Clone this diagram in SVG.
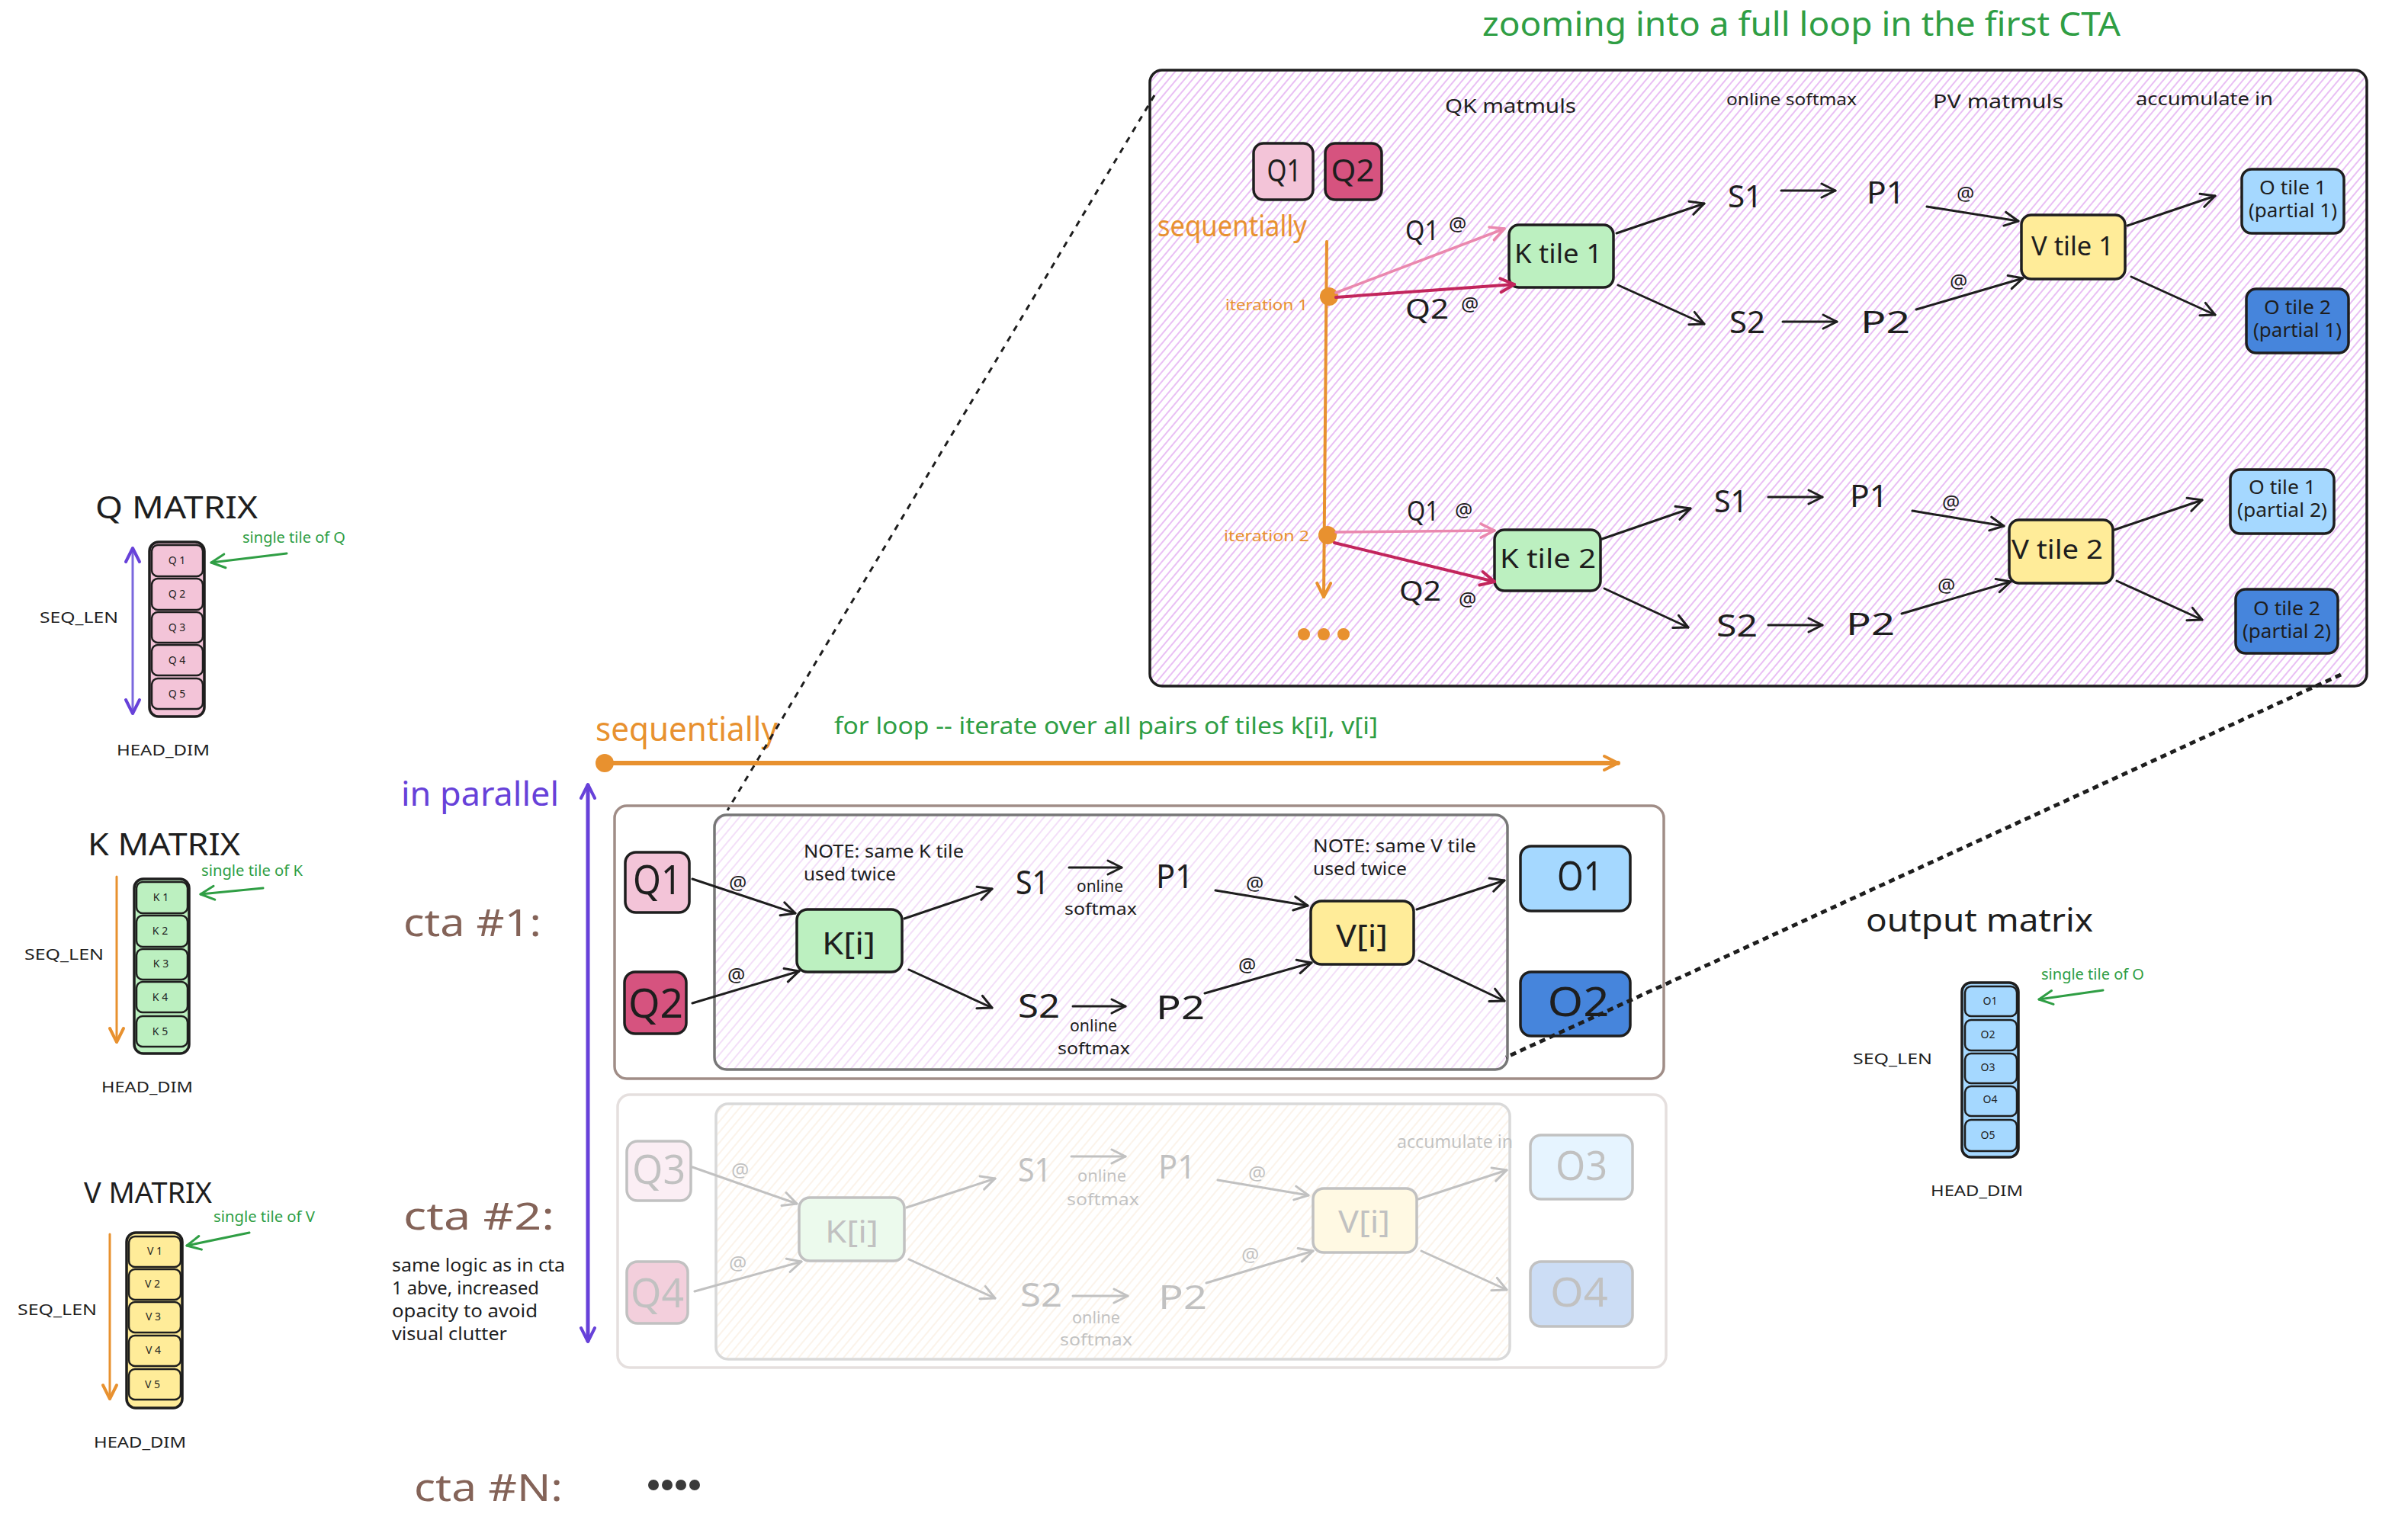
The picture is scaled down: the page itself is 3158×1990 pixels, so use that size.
<svg xmlns="http://www.w3.org/2000/svg" width="3158" height="1990" viewBox="0 0 3158 1990">
<defs>
<style>
text{font-family:"Noto Sans","Liberation Sans",sans-serif;fill:#1e1e1e}
.g{fill:#2f9e44}
.or{fill:#e8912f}
.pu{fill:#6741d9}
.br{fill:#846358}
.nd{stroke:#1e1e1e;stroke-width:3.5}
.tl{stroke:#1e1e1e;stroke-width:2.5}
.pk{fill:#f3c4d8}
.dpk{fill:#d6537f}
.gr{fill:#bcf0c0}
.ye{fill:#ffec99}
.lb{fill:#a5d8ff}
.db{fill:#4685dc}
.ar{stroke:#1e1e1e;stroke-width:3;fill:none;stroke-linecap:round;marker-end:url(#ah)}
.arlp{stroke:#ea88ae;stroke-width:3.5;fill:none;stroke-linecap:round;marker-end:url(#ahlp)}
.ardp{stroke:#c2255c;stroke-width:4;fill:none;stroke-linecap:round;marker-end:url(#ahdp)}
.aror{stroke:#e8912f;fill:none;stroke-linecap:round;marker-end:url(#ahor)}
.argr{stroke:#2f9e44;stroke-width:3;fill:none;stroke-linecap:round;marker-end:url(#ahgr)}
.dot{fill:#e8912f}
</style>
<marker id="ah" markerUnits="userSpaceOnUse" markerWidth="30" markerHeight="30" viewBox="0 0 30 30" refX="26" refY="15" orient="auto"><path d="M8,6 L26,15 L8,24" fill="none" stroke="#1e1e1e" stroke-width="3" stroke-linecap="round" stroke-linejoin="round"/></marker>
<marker id="ahlp" markerUnits="userSpaceOnUse" markerWidth="30" markerHeight="30" viewBox="0 0 30 30" refX="26" refY="15" orient="auto"><path d="M8,6 L26,15 L8,24" fill="none" stroke="#ea88ae" stroke-width="3.5" stroke-linecap="round" stroke-linejoin="round"/></marker>
<marker id="ahdp" markerUnits="userSpaceOnUse" markerWidth="30" markerHeight="30" viewBox="0 0 30 30" refX="26" refY="15" orient="auto"><path d="M8,6 L26,15 L8,24" fill="none" stroke="#c2255c" stroke-width="4" stroke-linecap="round" stroke-linejoin="round"/></marker>
<marker id="ahor" markerUnits="userSpaceOnUse" markerWidth="30" markerHeight="30" viewBox="0 0 30 30" refX="26" refY="15" orient="auto"><path d="M8,6 L26,15 L8,24" fill="none" stroke="#e8912f" stroke-width="4" stroke-linecap="round" stroke-linejoin="round"/></marker>
<marker id="ahpu" markerUnits="userSpaceOnUse" markerWidth="30" markerHeight="30" viewBox="0 0 30 30" refX="26" refY="15" orient="auto-start-reverse"><path d="M8,6 L26,15 L8,24" fill="none" stroke="#6741d9" stroke-width="4" stroke-linecap="round" stroke-linejoin="round"/></marker>
<marker id="ahgr" markerUnits="userSpaceOnUse" markerWidth="30" markerHeight="30" viewBox="0 0 30 30" refX="26" refY="15" orient="auto"><path d="M8,6 L26,15 L8,24" fill="none" stroke="#2f9e44" stroke-width="3" stroke-linecap="round" stroke-linejoin="round"/></marker>
<pattern id="hz" patternUnits="userSpaceOnUse" width="8" height="8" patternTransform="rotate(40)"><rect width="8" height="8" fill="#ffffff"/><line x1="1" y1="0" x2="1" y2="8" stroke="#e2aaf1" stroke-width="1.5"/></pattern>
<pattern id="hc" patternUnits="userSpaceOnUse" width="9" height="9" patternTransform="rotate(40)"><rect width="9" height="9" fill="#ffffff"/><line x1="1" y1="0" x2="1" y2="9" stroke="#eed2f6" stroke-width="1.4"/></pattern>
<pattern id="hb" patternUnits="userSpaceOnUse" width="9" height="9" patternTransform="rotate(40)"><rect width="9" height="9" fill="#ffffff"/><line x1="1" y1="0" x2="1" y2="9" stroke="#eec08a" stroke-width="1.3"/></pattern>
</defs>
<rect width="3158" height="1990" fill="#ffffff"/>

<!-- ===== Matrices ===== -->
<g id="q-matrix">
<text x="125" y="680" font-size="40" textLength="213" lengthAdjust="spacingAndGlyphs">Q MATRIX</text>
<rect x="196" y="711" width="72" height="229" rx="12" class="pk nd"/>
<rect x="199" y="715" width="67" height="41" rx="8" class="pk tl"/>
<rect x="199" y="759" width="67" height="41" rx="8" class="pk tl"/>
<rect x="199" y="803" width="67" height="40" rx="8" class="pk tl"/>
<rect x="199" y="846" width="67" height="40" rx="8" class="pk tl"/>
<rect x="199" y="890" width="67" height="40" rx="8" class="pk tl"/>
<g font-size="14" text-anchor="middle">
<text x="232" y="740">Q 1</text><text x="232" y="784">Q 2</text><text x="232" y="828">Q 3</text><text x="232" y="871">Q 4</text><text x="232" y="915">Q 5</text>
</g>
<text x="52" y="817" font-size="20" textLength="103" lengthAdjust="spacingAndGlyphs">SEQ_LEN</text>
<text x="153" y="991" font-size="20" textLength="122" lengthAdjust="spacingAndGlyphs">HEAD_DIM</text>
<text x="318" y="712" font-size="19" class="g" textLength="135" lengthAdjust="spacingAndGlyphs">single tile of Q</text>
</g>

<g id="k-matrix">
<text x="115" y="1122" font-size="40" textLength="200" lengthAdjust="spacingAndGlyphs">K MATRIX</text>
<rect x="176" y="1153" width="72" height="229" rx="12" class="gr nd"/>
<rect x="179" y="1157" width="67" height="41" rx="8" class="gr tl"/>
<rect x="179" y="1201" width="67" height="41" rx="8" class="gr tl"/>
<rect x="179" y="1245" width="67" height="40" rx="8" class="gr tl"/>
<rect x="179" y="1288" width="67" height="40" rx="8" class="gr tl"/>
<rect x="179" y="1333" width="67" height="40" rx="8" class="gr tl"/>
<g font-size="14" text-anchor="middle">
<text x="211" y="1182">K 1</text><text x="210" y="1226">K 2</text><text x="211" y="1269">K 3</text><text x="210" y="1313">K 4</text><text x="210" y="1358">K 5</text>
</g>
<text x="32" y="1259" font-size="20" textLength="104" lengthAdjust="spacingAndGlyphs">SEQ_LEN</text>
<text x="133" y="1433" font-size="20" textLength="120" lengthAdjust="spacingAndGlyphs">HEAD_DIM</text>
<text x="264" y="1149" font-size="19" class="g" textLength="133" lengthAdjust="spacingAndGlyphs">single tile of K</text>
</g>

<g id="v-matrix">
<text x="110" y="1578" font-size="38" textLength="168" lengthAdjust="spacingAndGlyphs">V MATRIX</text>
<rect x="166" y="1617" width="73" height="230" rx="12" class="ye nd"/>
<rect x="169" y="1622" width="68" height="40" rx="8" class="ye tl"/>
<rect x="169" y="1665" width="68" height="40" rx="8" class="ye tl"/>
<rect x="169" y="1708" width="68" height="40" rx="8" class="ye tl"/>
<rect x="169" y="1752" width="68" height="40" rx="8" class="ye tl"/>
<rect x="169" y="1796" width="68" height="40" rx="8" class="ye tl"/>
<g font-size="14" text-anchor="middle">
<text x="203" y="1646">V 1</text><text x="200" y="1689">V 2</text><text x="201" y="1732">V 3</text><text x="201" y="1776">V 4</text><text x="200" y="1821">V 5</text>
</g>
<text x="23" y="1725" font-size="20" textLength="104" lengthAdjust="spacingAndGlyphs">SEQ_LEN</text>
<text x="123" y="1899" font-size="20" textLength="121" lengthAdjust="spacingAndGlyphs">HEAD_DIM</text>
<text x="280" y="1603" font-size="19" class="g" textLength="133" lengthAdjust="spacingAndGlyphs">single tile of V</text>
</g>

<g id="output-matrix">
<text x="2447" y="1222" font-size="42" textLength="298" lengthAdjust="spacingAndGlyphs">output matrix</text>
<rect x="2573" y="1289" width="74" height="229" rx="12" class="lb nd"/>
<rect x="2577" y="1294" width="68" height="39" rx="8" class="lb tl"/>
<rect x="2577" y="1338" width="68" height="40" rx="8" class="lb tl"/>
<rect x="2577" y="1382" width="68" height="39" rx="8" class="lb tl"/>
<rect x="2577" y="1425" width="68" height="39" rx="8" class="lb tl"/>
<rect x="2577" y="1469" width="68" height="41" rx="8" class="lb tl"/>
<g font-size="14" text-anchor="middle">
<text x="2610" y="1318">O1</text><text x="2607" y="1362">O2</text><text x="2607" y="1405">O3</text><text x="2610" y="1447">O4</text><text x="2607" y="1494">O5</text>
</g>
<text x="2430" y="1396" font-size="20" textLength="104" lengthAdjust="spacingAndGlyphs">SEQ_LEN</text>
<text x="2532" y="1569" font-size="20" textLength="121" lengthAdjust="spacingAndGlyphs">HEAD_DIM</text>
<text x="2677" y="1285" font-size="19" class="g" textLength="135" lengthAdjust="spacingAndGlyphs">single tile of O</text>
</g>

<!-- ===== Zoomed loop ===== -->
<g id="zoom-title"><text x="1944" y="47" font-size="44" class="g" textLength="837" lengthAdjust="spacingAndGlyphs">zooming into a full loop in the first CTA</text></g>
<g id="zoom-box">
<rect x="1508" y="92" width="1596" height="808" rx="16" fill="url(#hz)" stroke="#1e1e1e" stroke-width="3.5"/>
<text x="1895" y="148" font-size="26" textLength="172" lengthAdjust="spacingAndGlyphs">QK matmuls</text>
<text x="2264" y="138" font-size="21" textLength="171" lengthAdjust="spacingAndGlyphs">online softmax</text>
<text x="2535" y="142" font-size="26" textLength="171" lengthAdjust="spacingAndGlyphs">PV matmuls</text>
<text x="2801" y="138" font-size="24" textLength="180" lengthAdjust="spacingAndGlyphs">accumulate in</text>
<text x="1518" y="310" font-size="38" class="or" textLength="196" lengthAdjust="spacingAndGlyphs">sequentially</text>
<text x="1607" y="407" font-size="19" class="or" textLength="108" lengthAdjust="spacingAndGlyphs">iteration 1</text>
<text x="1605" y="710" font-size="19" class="or" textLength="112" lengthAdjust="spacingAndGlyphs">iteration 2</text>
</g>
<g id="zoom-q1"><rect x="1644" y="188" width="78" height="74" rx="13" class="pk nd"/><text x="1684" y="238" font-size="40" text-anchor="middle" textLength="45" lengthAdjust="spacingAndGlyphs">Q1</text></g>
<g id="zoom-q2"><rect x="1738" y="188" width="74" height="74" rx="13" class="dpk nd"/><text x="1774" y="238" font-size="40" text-anchor="middle" textLength="57" lengthAdjust="spacingAndGlyphs">Q2</text></g>
<g id="zoom-timeline">
<line x1="1740" y1="317" x2="1736" y2="783" class="aror" stroke-width="4"/>
<circle cx="1743" cy="389" r="12" class="dot"/>
<circle cx="1741" cy="702" r="12" class="dot"/>
<circle cx="1710" cy="832" r="8" class="dot"/><circle cx="1736" cy="832" r="8" class="dot"/><circle cx="1762" cy="832" r="8" class="dot"/>
</g>
<g id="zoom-k1"><rect x="1979" y="295" width="137" height="82" rx="13" class="gr nd"/><text x="1986" y="345" font-size="34" textLength="115" lengthAdjust="spacingAndGlyphs">K tile 1</text></g>
<g id="zoom-s1a"><text x="2266" y="272" font-size="40" textLength="45" lengthAdjust="spacingAndGlyphs">S1</text></g>
<g id="zoom-s2a"><text x="2268" y="437" font-size="40" textLength="47" lengthAdjust="spacingAndGlyphs">S2</text></g>
<g id="zoom-p1a"><text x="2448" y="267" font-size="40" textLength="50" lengthAdjust="spacingAndGlyphs">P1</text></g>
<g id="zoom-p2a"><text x="2440" y="437" font-size="40" textLength="65" lengthAdjust="spacingAndGlyphs">P2</text></g>
<g id="zoom-v1"><rect x="2651" y="282" width="136" height="84" rx="13" class="ye nd"/><text x="2664" y="335" font-size="34" textLength="108" lengthAdjust="spacingAndGlyphs">V tile 1</text></g>
<g id="zoom-o1a"><rect x="2940" y="222" width="134" height="84" rx="13" class="lb nd"/><text x="3007" y="255" font-size="25" text-anchor="middle" textLength="88" lengthAdjust="spacingAndGlyphs">O tile 1</text><text x="3007" y="285" font-size="25" text-anchor="middle" textLength="116" lengthAdjust="spacingAndGlyphs">(partial 1)</text></g>
<g id="zoom-o2a"><rect x="2946" y="379" width="134" height="84" rx="13" class="db nd"/><text x="3013" y="412" font-size="25" text-anchor="middle" textLength="88" lengthAdjust="spacingAndGlyphs">O tile 2</text><text x="3013" y="442" font-size="25" text-anchor="middle" textLength="116" lengthAdjust="spacingAndGlyphs">(partial 1)</text></g>
<g id="zoom-k2"><rect x="1960" y="695" width="139" height="80" rx="13" class="gr nd"/><text x="1967" y="745" font-size="34" textLength="126" lengthAdjust="spacingAndGlyphs">K tile 2</text></g>
<g id="zoom-s1b"><text x="2248" y="672" font-size="40" textLength="44" lengthAdjust="spacingAndGlyphs">S1</text></g>
<g id="zoom-s2b"><text x="2251" y="835" font-size="40" textLength="54" lengthAdjust="spacingAndGlyphs">S2</text></g>
<g id="zoom-p1b"><text x="2426" y="665" font-size="40" textLength="50" lengthAdjust="spacingAndGlyphs">P1</text></g>
<g id="zoom-p2b"><text x="2421" y="833" font-size="40" textLength="64" lengthAdjust="spacingAndGlyphs">P2</text></g>
<g id="zoom-v2"><rect x="2635" y="682" width="136" height="83" rx="13" class="ye nd"/><text x="2638" y="733" font-size="34" textLength="120" lengthAdjust="spacingAndGlyphs">V tile 2</text></g>
<g id="zoom-o1b"><rect x="2925" y="616" width="136" height="84" rx="13" class="lb nd"/><text x="2993" y="648" font-size="25" text-anchor="middle" textLength="88" lengthAdjust="spacingAndGlyphs">O tile 1</text><text x="2993" y="678" font-size="25" text-anchor="middle" textLength="118" lengthAdjust="spacingAndGlyphs">(partial 2)</text></g>
<g id="zoom-o2b"><rect x="2932" y="773" width="134" height="84" rx="13" class="db nd"/><text x="2999" y="807" font-size="25" text-anchor="middle" textLength="88" lengthAdjust="spacingAndGlyphs">O tile 2</text><text x="2999" y="837" font-size="25" text-anchor="middle" textLength="116" lengthAdjust="spacingAndGlyphs">(partial 2)</text></g>

<!-- ===== Main section labels ===== -->
<g id="seq-label">
<text x="781" y="972" font-size="44" class="or" textLength="239" lengthAdjust="spacingAndGlyphs">sequentially</text>
<text x="1094" y="963" font-size="30" class="g" textLength="713" lengthAdjust="spacingAndGlyphs">for loop -- iterate over all pairs of tiles k[i], v[i]</text>
</g>
<g id="par-label"><text x="526" y="1057" font-size="44" class="pu" textLength="207" lengthAdjust="spacingAndGlyphs">in parallel</text></g>
<g id="cta1-label"><text x="529" y="1228" font-size="50" class="br" textLength="181" lengthAdjust="spacingAndGlyphs">cta #1:</text></g>
<g id="cta2-label">
<text x="529" y="1613" font-size="50" class="br" textLength="198" lengthAdjust="spacingAndGlyphs">cta #2:</text>
<g font-size="24" class="g">
<text x="514" y="1668" textLength="227" lengthAdjust="spacingAndGlyphs">same logic as in cta</text>
<text x="514" y="1698" textLength="193" lengthAdjust="spacingAndGlyphs">1 abve, increased</text>
<text x="514" y="1728" textLength="191" lengthAdjust="spacingAndGlyphs">opacity to avoid</text>
<text x="514" y="1758" textLength="151" lengthAdjust="spacingAndGlyphs">visual clutter</text>
</g>
</g>
<g id="ctaN-label">
<text x="543" y="1969" font-size="50" class="br" textLength="195" lengthAdjust="spacingAndGlyphs">cta #N:</text>
<circle cx="857" cy="1948" r="7" fill="#3a3a3a"/><circle cx="875" cy="1948" r="7" fill="#3a3a3a"/><circle cx="893" cy="1948" r="7" fill="#3a3a3a"/><circle cx="911" cy="1948" r="7" fill="#3a3a3a"/>
</g>

<!-- ===== CTA #1 ===== -->
<g id="cta1">
<rect x="806" y="1057" width="1376" height="358" rx="16" fill="none" stroke="#a08d87" stroke-width="3.5"/>
<rect x="937" y="1069" width="1040" height="334" rx="16" fill="url(#hc)" stroke="#777777" stroke-width="3.5"/>
<g id="cta1-q1"><rect x="820" y="1118" width="84" height="79" rx="14" class="pk nd"/><text x="862" y="1173" font-size="52" text-anchor="middle" textLength="64" lengthAdjust="spacingAndGlyphs">Q1</text></g>
<g id="cta1-q2"><rect x="819" y="1275" width="81" height="81" rx="14" class="dpk nd"/><text x="860" y="1335" font-size="52" text-anchor="middle" textLength="72" lengthAdjust="spacingAndGlyphs">Q2</text></g>
<g id="cta1-k"><rect x="1045" y="1193" width="138" height="82" rx="14" class="gr nd"/><text x="1113" y="1252" font-size="40" text-anchor="middle" textLength="70" lengthAdjust="spacingAndGlyphs">K[i]</text></g>
<g id="cta1-s1"><text x="1332" y="1173" font-size="44" textLength="44" lengthAdjust="spacingAndGlyphs">S1</text></g>
<g id="cta1-s2"><text x="1335" y="1335" font-size="44" textLength="55" lengthAdjust="spacingAndGlyphs">S2</text></g>
<g id="cta1-p1"><text x="1516" y="1165" font-size="44" textLength="49" lengthAdjust="spacingAndGlyphs">P1</text></g>
<g id="cta1-p2"><text x="1516" y="1337" font-size="44" textLength="64" lengthAdjust="spacingAndGlyphs">P2</text></g>
<g id="cta1-v"><rect x="1719" y="1182" width="135" height="83" rx="14" class="ye nd"/><text x="1786" y="1242" font-size="40" text-anchor="middle" textLength="68" lengthAdjust="spacingAndGlyphs">V[i]</text></g>
<g id="cta1-o1"><rect x="1994" y="1110" width="144" height="85" rx="14" class="lb nd"/><text x="2072" y="1168" font-size="52" text-anchor="middle" textLength="60" lengthAdjust="spacingAndGlyphs">O1</text></g>
<g id="cta1-o2"><rect x="1994" y="1275" width="144" height="84" rx="14" class="db nd"/><text x="2070" y="1333" font-size="52" text-anchor="middle" textLength="81" lengthAdjust="spacingAndGlyphs">O2</text></g>
<g font-size="22">
<text x="1412" y="1170" textLength="61" lengthAdjust="spacingAndGlyphs">online</text>
<text x="1396" y="1200" textLength="95" lengthAdjust="spacingAndGlyphs">softmax</text>
<text x="1403" y="1353" textLength="62" lengthAdjust="spacingAndGlyphs">online</text>
<text x="1387" y="1383" textLength="95" lengthAdjust="spacingAndGlyphs">softmax</text>
</g>
<g font-size="24" class="g">
<text x="1054" y="1125" textLength="210" lengthAdjust="spacingAndGlyphs">NOTE: same K tile</text>
<text x="1054" y="1155" textLength="121" lengthAdjust="spacingAndGlyphs">used twice</text>
<text x="1722" y="1118" textLength="214" lengthAdjust="spacingAndGlyphs">NOTE: same V tile</text>
<text x="1722" y="1148" textLength="123" lengthAdjust="spacingAndGlyphs">used twice</text>
</g>
</g>

<!-- ===== CTA #2 (faded) ===== -->
<g id="cta2" opacity="0.27" transform="translate(3,378)">
<rect x="807" y="1058" width="1375" height="358" rx="16" fill="none" stroke="#a08d87" stroke-width="3.5"/>
<rect x="936" y="1070" width="1041" height="335" rx="16" fill="url(#hb)" stroke="#777777" stroke-width="3.5"/>
<g id="cta2-q3"><rect x="819" y="1119" width="84" height="78" rx="14" class="pk nd"/><text x="861" y="1175" font-size="52" text-anchor="middle" textLength="70" lengthAdjust="spacingAndGlyphs">Q3</text></g>
<g id="cta2-q4"><rect x="819" y="1277" width="80" height="81" rx="14" class="dpk nd"/><text x="859" y="1337" font-size="52" text-anchor="middle" textLength="70" lengthAdjust="spacingAndGlyphs">Q4</text></g>
<g id="cta2-k"><rect x="1045" y="1193" width="138" height="83" rx="14" class="gr nd"/><text x="1114" y="1252" font-size="40" text-anchor="middle" textLength="70" lengthAdjust="spacingAndGlyphs">K[i]</text></g>
<g id="cta2-s1"><text x="1332" y="1172" font-size="44" textLength="44" lengthAdjust="spacingAndGlyphs">S1</text></g>
<g id="cta2-s2"><text x="1335" y="1336" font-size="44" textLength="55" lengthAdjust="spacingAndGlyphs">S2</text></g>
<g id="cta2-p1"><text x="1516" y="1168" font-size="44" textLength="49" lengthAdjust="spacingAndGlyphs">P1</text></g>
<g id="cta2-p2"><text x="1516" y="1339" font-size="44" textLength="64" lengthAdjust="spacingAndGlyphs">P2</text></g>
<g id="cta2-v"><rect x="1719" y="1181" width="136" height="84" rx="14" class="ye nd"/><text x="1786" y="1239" font-size="40" text-anchor="middle" textLength="68" lengthAdjust="spacingAndGlyphs">V[i]</text></g>
<g id="cta2-o3"><rect x="2004" y="1111" width="134" height="84" rx="14" class="lb nd"/><text x="2071" y="1170" font-size="52" text-anchor="middle" textLength="68" lengthAdjust="spacingAndGlyphs">O3</text></g>
<g id="cta2-o4"><rect x="2004" y="1277" width="134" height="85" rx="14" class="db nd"/><text x="2068" y="1336" font-size="52" text-anchor="middle" textLength="76" lengthAdjust="spacingAndGlyphs">O4</text></g>
<g font-size="22">
<text x="1410" y="1172" textLength="64" lengthAdjust="spacingAndGlyphs">online</text>
<text x="1396" y="1203" textLength="95" lengthAdjust="spacingAndGlyphs">softmax</text>
<text x="1403" y="1358" textLength="63" lengthAdjust="spacingAndGlyphs">online</text>
<text x="1387" y="1387" textLength="95" lengthAdjust="spacingAndGlyphs">softmax</text>
<text x="1829" y="1128" font-size="24" textLength="152" lengthAdjust="spacingAndGlyphs">accumulate in</text>
</g>
<g id="cta2-connectors">
<line x1="905" y1="1153" x2="1042" y2="1201" class="ar"/>
<line x1="908" y1="1316" x2="1048" y2="1277" class="ar"/>
<line x1="1186" y1="1206" x2="1302" y2="1168" class="ar"/>
<line x1="1189" y1="1274" x2="1302" y2="1325" class="ar"/>
<line x1="1402" y1="1139" x2="1473" y2="1139" class="ar"/>
<line x1="1404" y1="1322" x2="1476" y2="1322" class="ar"/>
<line x1="1594" y1="1170" x2="1713" y2="1190" class="ar"/>
<line x1="1579" y1="1305" x2="1719" y2="1263" class="ar"/>
<line x1="1857" y1="1195" x2="1973" y2="1157" class="ar"/>
<line x1="1861" y1="1263" x2="1973" y2="1314" class="ar"/>
<g font-size="26"><text x="956" y="1166">@</text><text x="953" y="1288">@</text><text x="1634" y="1170">@</text><text x="1625" y="1277">@</text></g>
</g>
</g>

<!-- ===== Connectors ===== -->
<g id="connectors">
<line x1="174" y1="719" x2="174" y2="936" stroke="#7b68dd" stroke-width="3" marker-start="url(#ahpu)" marker-end="url(#ahpu)"/>
<line x1="376" y1="726" x2="277" y2="738" class="argr"/>
<line x1="153" y1="1150" x2="153" y2="1367" class="aror" stroke-width="3"/>
<line x1="345" y1="1165" x2="263" y2="1173" class="argr"/>
<line x1="144" y1="1619" x2="144" y2="1835" class="aror" stroke-width="3"/>
<line x1="327" y1="1617" x2="245" y2="1634" class="argr"/>
<line x1="2758" y1="1299" x2="2674" y2="1311" class="argr"/>

<line x1="1514" y1="125" x2="954" y2="1063" stroke="#1e1e1e" stroke-width="3" stroke-dasharray="8 8"/>
<line x1="3070" y1="885" x2="1975" y2="1387" stroke="#1e1e1e" stroke-width="5" stroke-dasharray="8 6"/>

<line x1="793" y1="1001" x2="2122" y2="1001" class="aror" stroke-width="6"/>
<circle cx="793" cy="1001" r="12" class="dot"/>
<line x1="771" y1="1029" x2="771" y2="1760" stroke="#6741d9" stroke-width="5" marker-start="url(#ahpu)" marker-end="url(#ahpu)"/>

<line x1="908" y1="1153" x2="1043" y2="1198" class="ar"/>
<line x1="908" y1="1316" x2="1048" y2="1274" class="ar"/>
<line x1="1186" y1="1205" x2="1301" y2="1166" class="ar"/>
<line x1="1192" y1="1272" x2="1301" y2="1322" class="ar"/>
<line x1="1402" y1="1138" x2="1471" y2="1138" class="ar"/>
<line x1="1407" y1="1320" x2="1476" y2="1320" class="ar"/>
<line x1="1594" y1="1168" x2="1715" y2="1188" class="ar"/>
<line x1="1580" y1="1303" x2="1720" y2="1263" class="ar"/>
<line x1="1858" y1="1193" x2="1973" y2="1155" class="ar"/>
<line x1="1861" y1="1260" x2="1973" y2="1313" class="ar"/>
<g font-size="26"><text x="956" y="1167">@</text><text x="954" y="1288">@</text><text x="1634" y="1168">@</text><text x="1624" y="1275">@</text></g>

<line x1="1752" y1="384" x2="1973" y2="300" class="arlp"/>
<line x1="1752" y1="390" x2="1986" y2="373" class="ardp"/>
<line x1="2120" y1="306" x2="2235" y2="267" class="ar"/>
<line x1="2122" y1="374" x2="2235" y2="425" class="ar"/>
<line x1="2336" y1="250" x2="2407" y2="250" class="ar"/>
<line x1="2338" y1="422" x2="2409" y2="422" class="ar"/>
<line x1="2527" y1="271" x2="2647" y2="290" class="ar"/>
<line x1="2513" y1="406" x2="2653" y2="365" class="ar"/>
<line x1="2790" y1="296" x2="2905" y2="257" class="ar"/>
<line x1="2795" y1="363" x2="2905" y2="413" class="ar"/>
<line x1="1752" y1="698" x2="1960" y2="696" class="arlp"/>
<line x1="1750" y1="712" x2="1960" y2="763" class="ardp"/>
<line x1="2101" y1="707" x2="2217" y2="667" class="ar"/>
<line x1="2104" y1="772" x2="2214" y2="823" class="ar"/>
<line x1="2319" y1="652" x2="2390" y2="652" class="ar"/>
<line x1="2319" y1="820" x2="2390" y2="820" class="ar"/>
<line x1="2508" y1="670" x2="2628" y2="690" class="ar"/>
<line x1="2494" y1="805" x2="2637" y2="763" class="ar"/>
<line x1="2773" y1="695" x2="2888" y2="656" class="ar"/>
<line x1="2776" y1="762" x2="2888" y2="813" class="ar"/>
<g>
<text x="1843" y="315" font-size="36" textLength="44" lengthAdjust="spacingAndGlyphs">Q1</text>
<text x="1900" y="303" font-size="26">@</text>
<text x="1843" y="418" font-size="36" textLength="57" lengthAdjust="spacingAndGlyphs">Q2</text>
<text x="1916" y="408" font-size="26">@</text>
<text x="1845" y="683" font-size="36" textLength="42" lengthAdjust="spacingAndGlyphs">Q1</text>
<text x="1908" y="678" font-size="26">@</text>
<text x="1835" y="788" font-size="36" textLength="55" lengthAdjust="spacingAndGlyphs">Q2</text>
<text x="1913" y="795" font-size="26">@</text>
<text x="2566" y="263" font-size="26">@</text>
<text x="2557" y="378" font-size="26">@</text>
<text x="2547" y="668" font-size="26">@</text>
<text x="2541" y="777" font-size="26">@</text>
</g>
</g>
</svg>
